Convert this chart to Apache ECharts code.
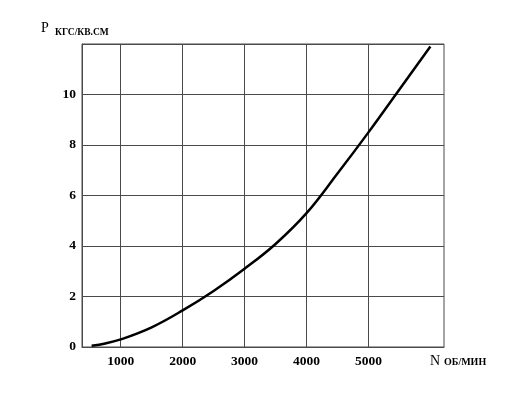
<!DOCTYPE html>
<html>
<head>
<meta charset="utf-8">
<script src="https://cdn.jsdelivr.net/npm/echarts@6/dist/echarts.min.js"></script>
<style>
    html, body { margin: 0; padding: 0; background: #fff; }
    #main { width: 528px; height: 397px; }
</style>
</head>
<body>
<div id="main"></div>
<script>
    // обороты, об/мин
    var speedN = [530, 750, 1000, 1500, 2000, 2500, 3000, 3500, 4000, 4500, 5000, 5500, 6000];
    // давление, кгс/кв.см
    var pressureP = [0.05, 0.14, 0.3, 0.78, 1.45, 2.22, 3.1, 4.08, 5.3, 6.87, 8.5, 10.2, 11.9];
    var xTicks = [1000, 2000, 3000, 4000, 5000];
    var yTicks = [0, 2, 4, 6, 8, 10];

    var font = '"Liberation Serif", "DejaVu Serif", serif';
    var gridColor = '#4a4a4a';

    var points = speedN.map(function (n, i) { return [n, pressureP[i]]; });

    var chart = echarts.init(document.getElementById('main'));
    var opt = {
        animation: false,
        grid: {
            left: 82, right: 84, top: 44, bottom: 50,
            show: true,
            borderColor: gridColor,
            borderWidth: 1
        },
        xAxis: {
            type: 'value',
            min: 375,
            max: 6220,
            axisLine: { show: true, lineStyle: { color: gridColor, width: 1 } },
            axisTick: { show: false, customValues: xTicks },
            axisLabel: {
                customValues: xTicks,
                color: '#000',
                fontFamily: font,
                fontSize: 13.5,
                fontWeight: 'bold',
                margin: 8,
                formatter: function (val) { return String(val); }
            },
            splitLine: { show: true, lineStyle: { color: gridColor, width: 1 } }
        },
        yAxis: {
            type: 'value',
            min: 0,
            max: 12,
            interval: 2,
            axisLine: { show: true, lineStyle: { color: gridColor, width: 1 } },
            axisTick: { show: false },
            axisLabel: {
                color: '#000',
                fontFamily: font,
                fontSize: 13.5,
                fontWeight: 'bold',
                margin: 6,
                formatter: function (val) {
                    return yTicks.indexOf(val) >= 0 ? String(val) : '';
                }
            },
            splitLine: { show: true, lineStyle: { color: gridColor, width: 1 } }
        },
        graphic: [
            { type: 'text', left: 41, top: 21, style: { text: 'P', font: '14px ' + font, fill: '#000' } },
            { type: 'text', left: 55, top: 28, style: { text: 'КГС/КВ.СМ', font: 'bold 9.5px ' + font, fill: '#000' } },
            { type: 'text', left: 430, top: 354, style: { text: 'N', font: '14px ' + font, fill: '#000' } },
            { type: 'text', left: 444, top: 357, style: { text: 'ОБ/МИН', font: 'bold 10px ' + font, fill: '#000' } }
        ],
        series: [{
            type: 'line',
            data: points,
            smooth: 0.4,
            showSymbol: false,
            lineStyle: { color: '#000', width: 2.5 }
        }]
    };
    chart.setOption(opt);
</script>
</body>
</html>
